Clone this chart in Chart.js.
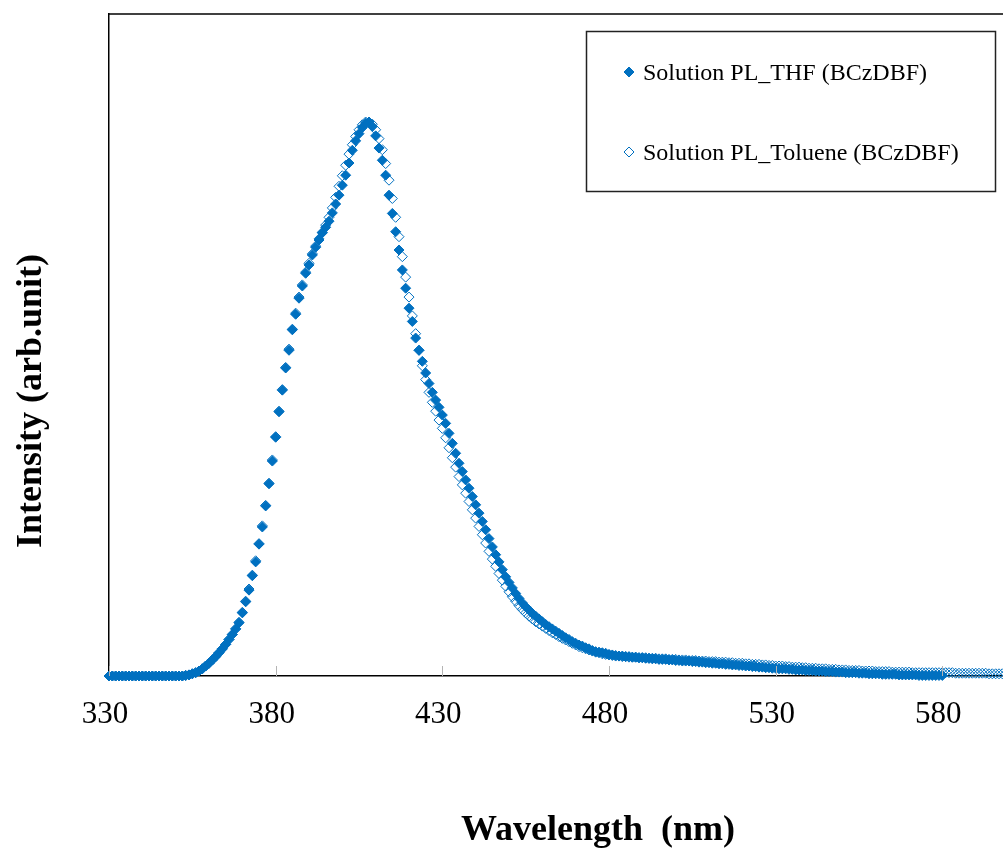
<!DOCTYPE html>
<html>
<head>
<meta charset="utf-8">
<title>Solution PL (BCzDBF)</title>
<script src="https://cdn.jsdelivr.net/npm/chart.js@4/dist/chart.umd.min.js"></script>
<style>
  html, body { margin: 0; padding: 0; background: #fff; overflow: hidden; }
  #wrap { width: 1030px; height: 852px; }
</style>
</head>
<body>
<div id="wrap"><canvas id="chart-pl" width="1030" height="852"></canvas></div>
<script>
// Wavelength axis (nm)
const wlStart = 330;
const xMin = 330, xMax = 600;
const xTickValues = [330, 380, 430, 480, 530, 580];

// Normalised PL intensity, one value per nm starting at 330 nm
const thfIntensity = [
  0,0,0,0,0,0,0,0,0,0,
  0,0,0,0,0,0,0,0,0,0,
  0,0,0,0.001,0.002,0.004,0.006,0.009,0.013,0.018,
  0.023,0.029,0.035,0.042,0.049,0.057,0.066,0.075,0.085,0.096,
  0.114,0.134,0.155,0.181,0.206,0.238,0.269,0.307,0.347,0.388,
  0.431,0.477,0.516,0.556,0.588,0.625,0.653,0.682,0.704,0.727,
  0.742,0.760,0.774,0.787,0.800,0.810,0.821,0.836,0.852,0.868,
  0.886,0.904,0.926,0.949,0.966,0.979,0.990,0.998,1.000,0.992,
  0.975,0.953,0.931,0.904,0.868,0.835,0.802,0.769,0.733,0.700,
  0.664,0.640,0.610,0.588,0.568,0.547,0.528,0.512,0.498,0.485,
  0.471,0.456,0.438,0.420,0.402,0.384,0.369,0.354,0.339,0.324,
  0.309,0.294,0.279,0.264,0.248,0.233,0.219,0.206,0.192,0.179,
  0.169,0.159,0.149,0.140,0.132,0.125,0.119,0.113,0.108,0.103,
  0.098,0.093,0.089,0.085,0.081,0.077,0.073,0.069,0.066,0.062,
  0.059,0.056,0.054,0.051,0.049,0.046,0.044,0.043,0.042,0.041,
  0.039,0.038,0.037,0.036,0.036,0.035,0.035,0.034,0.034,0.033,
  0.033,0.032,0.032,0.031,0.031,0.030,0.030,0.030,0.029,0.029,
  0.028,0.028,0.027,0.027,0.027,0.026,0.026,0.025,0.025,0.024,
  0.024,0.023,0.023,0.022,0.022,0.021,0.021,0.020,0.020,0.019,
  0.019,0.018,0.018,0.017,0.017,0.016,0.016,0.015,0.015,0.014,
  0.014,0.013,0.013,0.013,0.012,0.012,0.011,0.011,0.011,0.010,
  0.010,0.010,0.009,0.009,0.009,0.008,0.008,0.008,0.007,0.007,
  0.007,0.006,0.006,0.006,0.006,0.005,0.005,0.005,0.004,0.004,
  0.004,0.004,0.003,0.003,0.003,0.003,0.003,0.002,0.002,0.002,
  0.002,0.002,0.002,0.001,0.001,0.001,0.001,0.001,0.001,0.001,
  0.001
];

const tolIntensity = [
  0,0,0,0,0,0,0,0,0,0,
  0,0,0,0,0,0,0,0,0,0,
  0,0,0,0.001,0.002,0.004,0.006,0.009,0.013,0.018,
  0.023,0.029,0.035,0.042,0.049,0.057,0.066,0.075,0.085,0.097,
  0.115,0.135,0.157,0.182,0.208,0.239,0.271,0.308,0.348,0.390,
  0.432,0.478,0.517,0.557,0.590,0.626,0.655,0.684,0.706,0.729,
  0.745,0.762,0.776,0.789,0.801,0.814,0.828,0.845,0.864,0.884,
  0.903,0.922,0.942,0.959,0.974,0.986,0.995,1.000,1.000,0.996,
  0.986,0.970,0.950,0.925,0.895,0.862,0.828,0.793,0.757,0.720,
  0.684,0.650,0.618,0.588,0.560,0.535,0.512,0.494,0.478,0.462,
  0.447,0.430,0.412,0.394,0.377,0.360,0.345,0.330,0.315,0.300,
  0.285,0.270,0.255,0.240,0.225,0.211,0.198,0.185,0.173,0.162,
  0.152,0.143,0.135,0.127,0.120,0.114,0.108,0.103,0.098,0.094,
  0.090,0.086,0.082,0.078,0.075,0.071,0.068,0.065,0.062,0.059,
  0.056,0.053,0.051,0.049,0.047,0.045,0.043,0.042,0.040,0.039,
  0.038,0.037,0.036,0.036,0.035,0.035,0.034,0.034,0.034,0.033,
  0.033,0.033,0.032,0.032,0.032,0.031,0.031,0.031,0.030,0.030,
  0.030,0.029,0.029,0.029,0.028,0.028,0.028,0.027,0.027,0.027,
  0.026,0.026,0.026,0.025,0.025,0.025,0.024,0.024,0.023,0.023,
  0.023,0.022,0.022,0.021,0.021,0.021,0.020,0.020,0.019,0.019,
  0.018,0.018,0.018,0.017,0.017,0.016,0.016,0.016,0.015,0.015,
  0.014,0.014,0.014,0.013,0.013,0.013,0.012,0.012,0.012,0.011,
  0.011,0.011,0.010,0.010,0.010,0.010,0.009,0.009,0.009,0.009,
  0.008,0.008,0.008,0.008,0.008,0.007,0.007,0.007,0.007,0.007,
  0.007,0.006,0.006,0.006,0.006,0.006,0.006,0.006,0.006,0.006,
  0.006,0.006,0.006,0.006,0.005,0.005,0.005,0.005,0.005,0.005,
  0.005,0.005,0.005,0.005,0.004,0.004,0.004,0.004,0.004,0.004,
  0.004
];

const seriesLabels = ['Solution PL_THF (BCzDBF)', 'Solution PL_Toluene (BCzDBF)'];
const xTitle = 'Wavelength  (nm)';
const yTitle = 'Intensity (arb.unit)';

const blue = '#0070C0';
const serif = "'Liberation Serif', 'Times New Roman', serif";

function toPoints(values) {
    return values.map((v, i) => ({ x: wlStart + i, y: v }));
}

// Draws the frame top line, inner tick marks, axis titles and the boxed legend
const decorations = {
    id: 'decorations',
    afterDraw(chart) {
        const ctx = chart.ctx;
        const area = chart.chartArea;
        const xs = chart.scales.x;
        ctx.save();

        // top frame line
        ctx.strokeStyle = '#000';
        ctx.lineWidth = 1.5;
        ctx.beginPath();
        ctx.moveTo(area.left, area.top);
        ctx.lineTo(area.right, area.top);
        ctx.stroke();

        // small grey tick marks pointing into the plot
        ctx.strokeStyle = '#b4b4b4';
        ctx.lineWidth = 1;
        xTickValues.forEach(v => {
            const px = Math.round(xs.getPixelForValue(v)) + 0.5;
            ctx.beginPath();
            ctx.moveTo(px, area.bottom);
            ctx.lineTo(px, area.bottom - 10);
            ctx.stroke();
        });

        // axis titles
        ctx.fillStyle = '#000';
        ctx.font = 'bold 36px ' + serif;
        ctx.textAlign = 'center';
        ctx.textBaseline = 'alphabetic';
        ctx.fillText(xTitle, 598, 840);

        ctx.save();
        ctx.translate(41, 401);
        ctx.rotate(-Math.PI / 2);
        ctx.fillText(yTitle, 0, 0);
        ctx.restore();

        // legend box
        ctx.strokeStyle = '#222';
        ctx.lineWidth = 1.5;
        ctx.strokeRect(586.5, 31.5, 409, 160);

        const rows = [80, 160];
        chart.data.datasets.forEach((ds, i) => {
            const cy = rows[i] - 8;
            ctx.fillStyle = ds.backgroundColor;
            ctx.strokeStyle = ds.borderColor;
            ctx.lineWidth = 1;
            ctx.beginPath();
            ctx.moveTo(629, cy - 5);
            ctx.lineTo(634, cy);
            ctx.lineTo(629, cy + 5);
            ctx.lineTo(624, cy);
            ctx.closePath();
            ctx.fill();
            ctx.stroke();
            ctx.fillStyle = '#000';
            ctx.font = '24px ' + serif;
            ctx.textAlign = 'left';
            ctx.fillText(ds.label, 643, rows[i]);
        });

        ctx.restore();
    }
};

const chartPL = new Chart(document.getElementById('chart-pl').getContext('2d'), {
    type: 'scatter',
    data: {
        datasets: [
            {
                label: seriesLabels[0],
                data: toPoints(thfIntensity),
                pointStyle: 'rectRot',
                pointRadius: 5,
                borderWidth: 1,
                backgroundColor: blue,
                borderColor: blue,
                clip: false
            },
            {
                label: seriesLabels[1],
                data: toPoints(tolIntensity),
                pointStyle: 'rectRot',
                pointRadius: 5,
                borderWidth: 1,
                backgroundColor: 'rgba(0,0,0,0)',
                borderColor: blue,
                clip: false
            }
        ]
    },
    options: {
        responsive: false,
        animation: false,
        layout: { padding: { left: 109, top: 14, right: 21, bottom: 0 } },
        plugins: {
            legend: { display: false },
            tooltip: { enabled: false }
        },
        scales: {
            x: {
                type: 'linear',
                min: xMin,
                max: xMax,
                afterBuildTicks: scale => {
                    scale.ticks = xTickValues.map(v => ({ value: v }));
                },
                afterFit: scale => { scale.height = 176; },
                grid: { display: false, drawTicks: false },
                border: { display: true, color: '#000', width: 1.5 },
                ticks: {
                    padding: 20,
                    labelOffset: -4,
                    color: '#000',
                    font: { family: serif, size: 31 },
                    maxRotation: 0
                }
            },
            y: {
                min: 0,
                max: 1.195,
                afterFit: scale => { scale.width = 0; },
                grid: { display: false, drawTicks: false },
                border: { display: true, color: '#000', width: 1.5 },
                ticks: { display: false }
            }
        }
    },
    plugins: [decorations]
});
</script>
</body>
</html>
